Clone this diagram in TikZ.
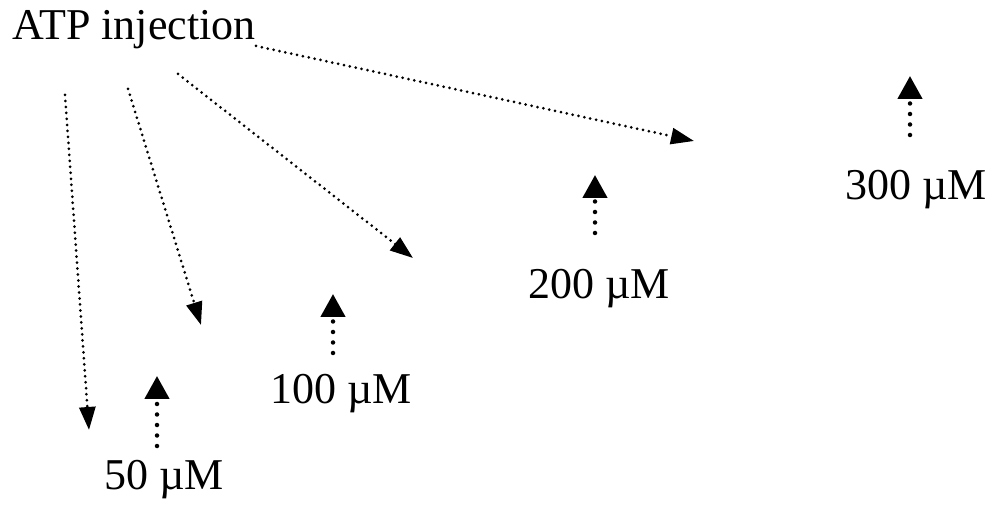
\documentclass[tikz,border=0pt]{standalone}
\usepackage{fontspec}
\setmainfont{Liberation Serif}
\usetikzlibrary{arrows.meta}
\begin{document}
\begin{tikzpicture}[x=1pt,y=-1pt,
  lbl/.style={inner sep=0pt, font=\fontsize{44}{50}\selectfont},
  inject/.style={line width=3pt, line cap=round, dash pattern=on 0pt off 6pt,
    -{Triangle[length=23pt,width=16pt]}},
  marker/.style={line width=4.5pt, line cap=round, dash pattern=on 0pt off 10.5pt,
    -{Triangle[length=23pt,width=24pt]}}]
\useasboundingbox (0,0) rectangle (996,510);

% labels
\node[lbl] (atp) at (134,30) {ATP injection};
\node[lbl] (c50)  at (164,480) {50 µM};
\node[lbl] (c100) at (341,394) {100 µM};
\node[lbl] (c200) at (599,289) {200 µM};
\node[lbl] (c300) at (916,190) {300 µM};

% start points of the injection arrows
\coordinate (s1) at (65,95);
\coordinate (s2) at (128,89);
\coordinate (s3) at (178,74);
\coordinate (s4) at (256,46);
% tips of the injection arrows
\coordinate (t1) at (89,430);
\coordinate (t2) at (201,325);
\coordinate (t3) at (413,258);
\coordinate (t4) at (694,141);

\draw[inject] (s1) -- (t1);
\draw[inject] (s2) -- (t2);
\draw[inject] (s3) -- (t3);
\draw[inject] (s4) -- (t4);

% concentration markers
\coordinate (b50)  at (157,446);
\coordinate (a50)  at (157,376);
\coordinate (b100) at (333,353);
\coordinate (a100) at (333,294);
\coordinate (b200) at (595,233);
\coordinate (a200) at (595,175);
\coordinate (b300) at (910,135);
\coordinate (a300) at (910,76);

\draw[marker] (b50) -- (a50);
\draw[marker] (b100) -- (a100);
\draw[marker] (b200) -- (a200);
\draw[marker] (b300) -- (a300);
\end{tikzpicture}
\end{document}
